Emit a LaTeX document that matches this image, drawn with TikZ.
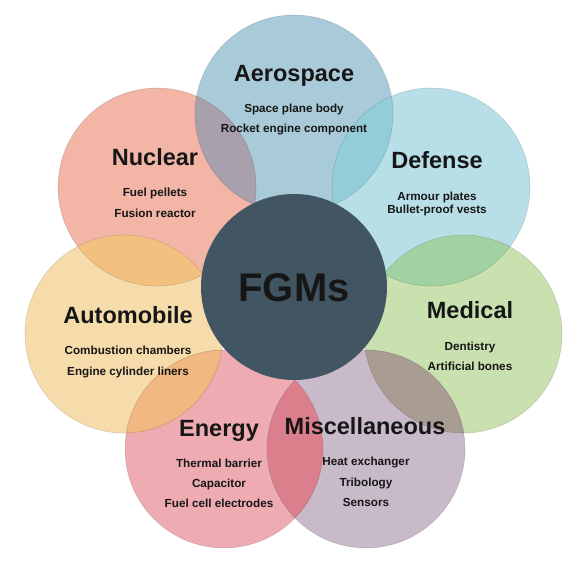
\documentclass[tikz,border=0pt]{standalone}
\usepackage{fontspec}
\setmainfont{Liberation Sans}
\definecolor{cAero}{HTML}{A9CAD8}
\definecolor{cNuc}{HTML}{F2B5A6}
\definecolor{cDef}{HTML}{B8DFE7}
\definecolor{cMed}{HTML}{C9E1AF}
\definecolor{cAuto}{HTML}{F6DCAA}
\definecolor{cEn}{HTML}{EEACB2}
\definecolor{cMisc}{HTML}{C8BAC8}
\definecolor{cFGM}{HTML}{425562}
\definecolor{oAN}{HTML}{A8A1AD}
\definecolor{oAD}{HTML}{92CDD8}
\definecolor{oNA}{HTML}{F3C07F}
\definecolor{oAE}{HTML}{F2B882}
\definecolor{oEM}{HTML}{DC7F8C}
\definecolor{oMM}{HTML}{A99C92}
\definecolor{oMD}{HTML}{A2D1A2}
\definecolor{txt}{HTML}{161616}
\begin{document}
\begin{tikzpicture}[x=1pt,y=-1pt,
  title/.style={font=\fontsize{23.5}{28}\selectfont\bfseries, text=txt, inner sep=0pt, text height=16.8pt, text depth=0pt},
  sub/.style={font=\fontsize{11.7}{14}\selectfont\bfseries, text=txt, inner sep=0pt, text height=8.4pt, text depth=0pt},
  edge/.style={draw=black, draw opacity=0.14, line width=0.6pt}]
\useasboundingbox (0,0) rectangle (580,560);
\coordinate (aero) at (294,114);
\coordinate (nuc) at (157,187);
\coordinate (def) at (431,187);
\coordinate (auto) at (124,334);
\coordinate (med) at (463,334);
\coordinate (en) at (224,449);
\coordinate (misc) at (366,449);
\coordinate (fgm) at (294,287);
% circles
\fill[cAero] (aero) circle (99pt);
\fill[cNuc] (nuc) circle (99pt);
\fill[cDef] (def) circle (99pt);
\fill[cAuto] (auto) circle (99pt);
\fill[cMed] (med) circle (99pt);
\fill[cEn] (en) circle (99pt);
\fill[cMisc] (misc) circle (99pt);
% overlaps
\begin{scope}\clip (aero) circle (99pt); \fill[oAN] (nuc) circle (99pt);\end{scope}
\begin{scope}\clip (aero) circle (99pt); \fill[oAD] (def) circle (99pt);\end{scope}
\begin{scope}\clip (nuc) circle (99pt); \fill[oNA] (auto) circle (99pt);\end{scope}
\begin{scope}\clip (auto) circle (99pt); \fill[oAE] (en) circle (99pt);\end{scope}
\begin{scope}\clip (en) circle (99pt); \fill[oEM] (misc) circle (99pt);\end{scope}
\begin{scope}\clip (misc) circle (99pt); \fill[oMM] (med) circle (99pt);\end{scope}
\begin{scope}\clip (med) circle (99pt); \fill[oMD] (def) circle (99pt);\end{scope}
% faint edges
\foreach \c in {aero,nuc,def,auto,med,en,misc} \path[edge] (\c) circle (99pt);
% centre
\fill[cFGM] (fgm) circle (93pt);
% texts
\node[font=\fontsize{40}{46}\selectfont\bfseries, text=txt, inner sep=0pt, text height=28.6pt, text depth=0pt] (tFGM) at (294,287) {FGMs};
\node[title] (tAero) at (294,73) {Aerospace};
\node[sub] (sAero1) at (294,108) {Space plane body};
\node[sub] (sAero2) at (294,128) {Rocket engine component};
\node[title] (tNuc) at (155,157) {Nuclear};
\node[sub] (sNuc1) at (155,192) {Fuel pellets};
\node[sub] (sNuc2) at (155,213) {Fusion reactor};
\node[title] (tDef) at (437,160) {Defense};
\node[sub] (sDef1) at (437,196) {Armour plates};
\node[sub] (sDef2) at (437,209) {Bullet-proof vests};
\node[title] (tAuto) at (128,315) {Automobile};
\node[sub] (sAuto1) at (128,350) {Combustion chambers};
\node[sub] (sAuto2) at (128,371) {Engine cylinder liners};
\node[title] (tMed) at (470,310) {Medical};
\node[sub] (sMed1) at (470,346) {Dentistry};
\node[sub] (sMed2) at (470,366) {Artificial bones};
\node[title] (tEn) at (219,428) {Energy};
\node[sub] (sEn1) at (219,463) {Thermal barrier};
\node[sub] (sEn2) at (219,483) {Capacitor};
\node[sub] (sEn3) at (219,503) {Fuel cell electrodes};
\node[title] (tMisc) at (365,426) {Miscellaneous};
\node[sub] (sMisc1) at (366,461) {Heat exchanger};
\node[sub] (sMisc2) at (366,482) {Tribology};
\node[sub] (sMisc3) at (366,502) {Sensors};
\end{tikzpicture}
\end{document}
